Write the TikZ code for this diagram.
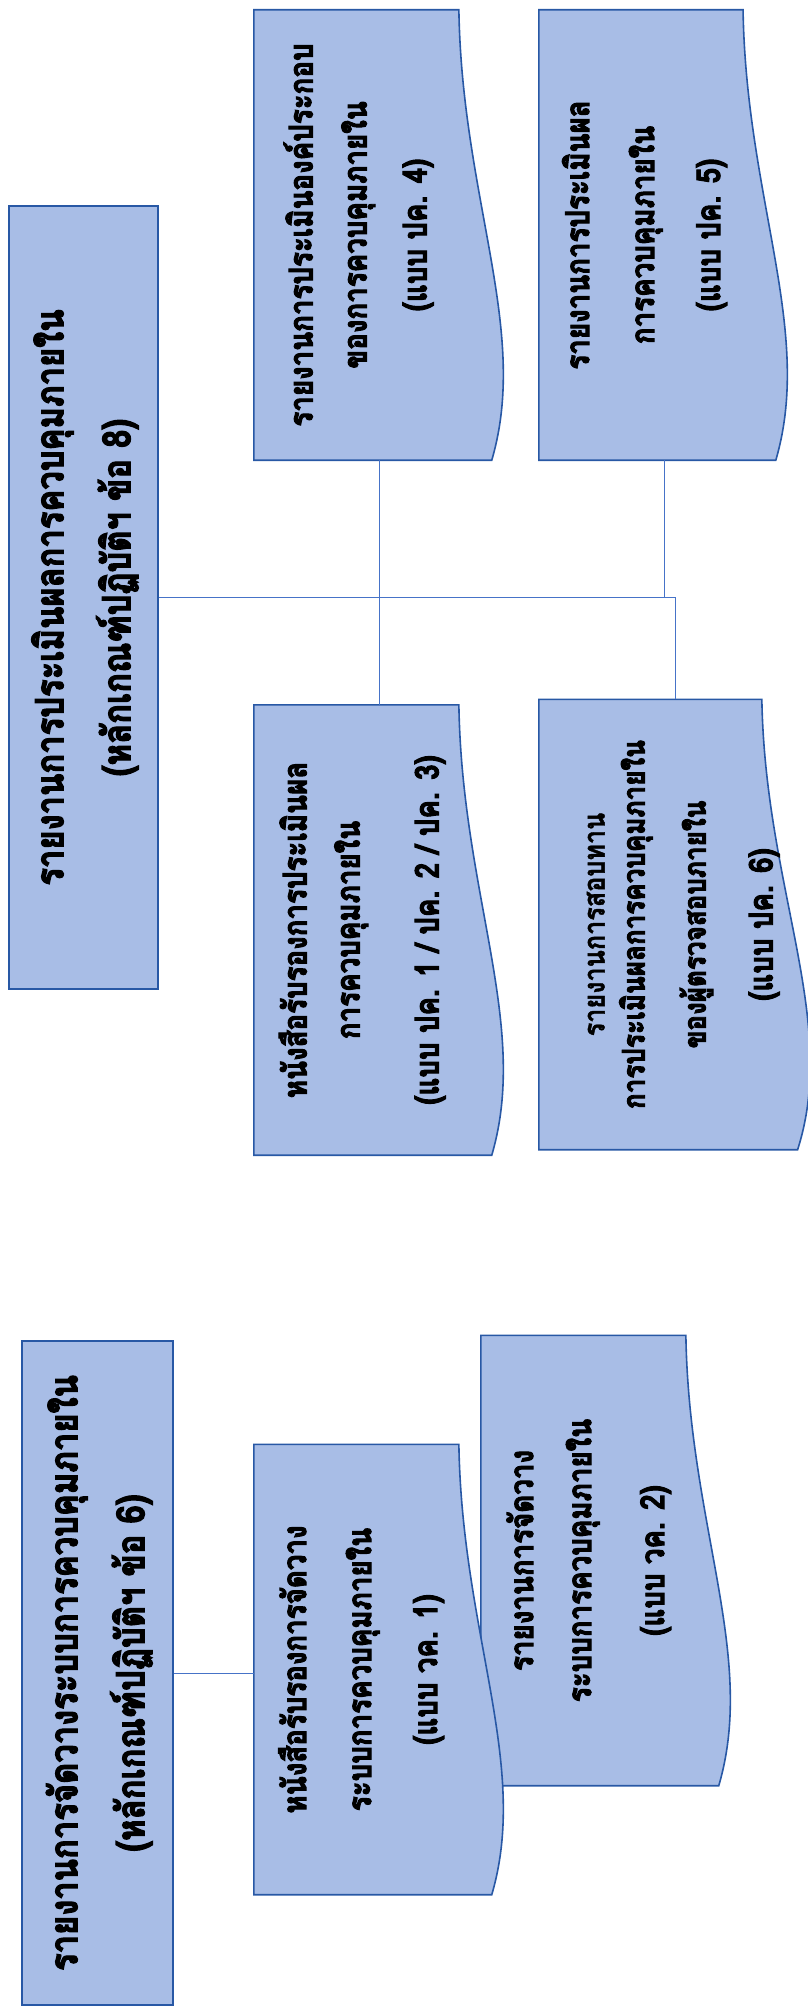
\documentclass[tikz,border=0pt]{standalone}
\usepackage{graphicx}
\usepackage{fontspec}
\newfontfamily\thaifont[Script=Thai, FakeStretch=0.84, BoldFeatures={FakeBold=3}]{Loma}
\newfontfamily\thaimedium[Script=Thai, FakeStretch=0.84, FakeBold=1.2]{Loma}
\usetikzlibrary{positioning}
\usetikzlibrary{calc,backgrounds}

\definecolor{boxfill}{RGB}{168,189,230}
\definecolor{boxline}{RGB}{40,88,165}
\definecolor{linkblue}{RGB}{70,115,200}

% lines of a box, turned to read upwards
\newcommand{\uptext}[2][\fontsize{33}{58}\selectfont]{\rotatebox{90}{#1\begin{tabular}{@{}c@{}}#2\end{tabular}}}

% outline of a form box: straight on three sides, wavy on the right
\newcommand{\docshape}[2]{%
  \filldraw[docline] (#1.north west) -- ++({0.817*#2},0)
    .. controls +({0.012*#2},190) and +({0.152*#2},-130) .. ($(#1.south west)+({0.948*#2},0)$)
    -- (#1.south west) -- cycle;}

\begin{document}
\begin{tikzpicture}[x=1pt,y=-1pt,
    box/.style={draw=boxline, fill=boxfill, line width=1.6pt, inner sep=0pt, font=\thaifont\bfseries},
    docbox/.style={minimum width=#1pt, minimum height=450pt, inner sep=0pt},
    doctext/.style={font=\thaifont\bfseries, inner sep=0pt, xshift=#1pt},
    docline/.style={draw=boxline, fill=boxfill, line width=1.6pt},
    link/.style={draw=linkblue, line width=1pt}]
    \useasboundingbox (0,0) rectangle (808,2010);

    % the evaluation report and its forms
    \node[box, minimum width=149pt, minimum height=783pt] (rep8) at (83.5,597.5)
        {\uptext[\fontsize{39}{67}\selectfont]{รายงานการประเมินผลการควบคุมภายใน\\(หลักเกณฑ์ปฏิบัติฯ ข้อ 8)}};

    \node[docbox=251, label={[doctext=-21.5]center:{\uptext{รายงานการประเมินองค์ประกอบ\\[-4pt]ของการควบคุมภายใน\\[2pt](แบบ ปค. 4)}}}] (pc4) at (379.5,235) {};
    \node[docbox=250, label={[doctext=-21]center:{\uptext{รายงานการประเมินผล\\[7pt]การควบคุมภายใน\\[8pt](แบบ ปค. 5)}}}] (pc5) at (664,235) {};
    \node[docbox=251, label={[doctext=-18.5]center:{\uptext{หนังสือรับรองการประเมินผล\\[-5pt]การควบคุมภายใน\\[21pt](แบบ ปค. 1 / ปค. 2 / ปค. 3)}}}] (pc123) at (379.5,930) {};
    \node[docbox=273, label={[doctext=1.5]center:{\uptext{{\thaimedium\fontsize{30}{40}\selectfont รายงานการสอบทาน}\\[-18pt]{\fontsize{31}{40}\selectfont การประเมินผลการควบคุมภายใน}\\[3pt]{\fontsize{31}{40}\selectfont ของผู้ตรวจสอบภายใน}\\[9pt](แบบ ปค. 6)}}}] (pc6) at (675.5,924.5) {};

    % the arrangement report and its forms
    \node[box, minimum width=151pt, minimum height=664pt] (rep6) at (97.5,1673)
        {\uptext[\fontsize{39}{67}\selectfont]{รายงานการจัดวางระบบการควบคุมภายใน\\(หลักเกณฑ์ปฏิบัติฯ ข้อ 6)}};

    \node[docbox=251, label={[doctext=-19.5]center:{\uptext{หนังสือรับรองการจัดวาง\\[7pt]ระบบการควบคุมภายใน\\[8pt](แบบ วค. 1)}}}] (vc1) at (379.5,1669.5) {};
    \node[docbox=251, label={[doctext=-19.5]center:{\uptext{รายงานการจัดวาง\\ระบบการควบคุมภายใน\\[15pt](แบบ วค. 2)}}}] (vc2) at (606.5,1560.5) {};

    % the wavy boxes go behind their texts
    \begin{pgfonlayer}{background}
        \docshape{pc4}{251}
        \docshape{pc5}{250}
        \docshape{pc123}{251}
        \docshape{pc6}{273}
        \docshape{vc2}{251}
        \docshape{vc1}{251}
    \end{pgfonlayer}

    % the lines
    \draw[link] (rep8.east) -- (rep8.east -| pc6.north);
    \draw[link] (pc4.south) -- (pc123.north);
    \draw[link] (pc5.south) -- (pc5.south |- rep8.east);
    \draw[link] (pc6.north) -- (pc6.north |- rep8.east);
    \draw[link] (rep6.east) -- (rep6.east -| vc1.west);
\end{tikzpicture}
\end{document}
